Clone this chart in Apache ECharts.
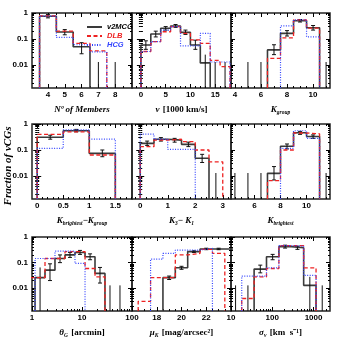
<!DOCTYPE html>
<html><head><meta charset="utf-8">
<script src="https://cdn.jsdelivr.net/npm/echarts@6/dist/echarts.min.js"></script>
<style>html,body{margin:0;padding:0;background:#fff}#c{width:343px;height:343px}</style>
</head><body><div id="c"></div>
<script>
// ---------- shared y range (fraction of groups, log) ----------
const Y_MIN = 0.0013, Y_MAX = 1;
const yTickLabels = [0.01, 0.1, 1];

// ---------- Panel 1: number of members ----------
const membersEdges = [3.5, 4.5, 5.5, 6.5, 7.5, 8.5];
const membersV2MCG = [0.75, 0.185, 0.05, 0, 0];
const membersDLB   = [0.78, 0.2, 0.068, 0.035, 0];
const membersHCG   = [0.76, 0.115, 0.06, 0.032, 0];
const membersErrX  = [4, 5, 6, 7, 8];
const membersErrLo = [0.65, 0.145, 0.027, 0, 0];
const membersErrHi = [0.88, 0.23, 0.072, 0.013, 0.013];
const membersTicks = [4, 5, 6, 7, 8];

// ---------- Panel 2: velocity [1000 km/s] ----------
const velEdges = [0, 2, 4, 6, 8, 10, 12, 14, 16, 18];
const velV2MCG = [0.059, 0.155, 0.26, 0.316, 0.18, 0.059, 0.012, 0, 0];
const velDLB   = [0.033, 0.079, 0.19, 0.3, 0.165, 0.092, 0.068, 0.015, 0.0087];
const velHCG   = [0.033, 0.079, 0.22, 0.3, 0.054, 0.054, 0.165, 0.013, 0.013];
const velErrX  = [1, 3, 5, 7, 9, 11, 13, 15, 17];
const velErrLo = [0.04, 0.12, 0.22, 0.28, 0.15, 0.04, 0, 0, 0];
const velErrHi = [0.085, 0.2, 0.3, 0.36, 0.22, 0.09, 0.025, 0.013, 0.013];
const velTicks = [0, 5, 10, 15];

// ---------- Panel 3: K_group ----------
const kgEdges = [6.5, 7.5, 8.5, 9.5, 10.5];
const kgV2MCG = [0.038, 0.165, 0.5, 0.27];
const kgDLB   = [0.018, 0.11, 0.54, 0.26];
const kgHCG   = [0, 0.32, 0.54, 0.12];
const kgErrX  = [5, 6, 7, 8, 9, 10, 11];
const kgErrLo = [0, 0, 0.025, 0.13, 0.45, 0.22, 0];
const kgErrHi = [0.013, 0.013, 0.06, 0.21, 0.56, 0.33, 0.013];
const kgTicks = [4, 6, 8, 10];

// ---------- Panel 4: K_brightest - K_group ----------
const dkEdges = [0, 0.5, 1, 1.5];
const dkV2MCG = [0.31, 0.55, 0.074];
const dkDLB   = [0.4, 0.5, 0.064];
const dkHCG   = [0.115, 0.59, 0.26];
const dkErrX  = [0.25, 0.75, 1.25];
const dkErrLo = [0.26, 0.5, 0.055];
const dkErrHi = [0.37, 0.62, 0.1];
const dkTicks = [0, 0.5, 1, 1.5];

// ---------- Panel 5: K_3 - K_1 ----------
const gapEdges = [0, 0.5, 1, 1.5, 2, 2.5, 3];
const gapV2MCG = [0.18, 0.26, 0.24, 0.165, 0.048, 0];
const gapDLB   = [0.134, 0.24, 0.26, 0.21, 0.1, 0.035];
const gapHCG   = [0.41, 0.26, 0.106, 0.106, 0, 0];
const gapErrX  = [0.25, 0.75, 1.25, 1.75, 2.25, 2.75];
const gapErrLo = [0.15, 0.22, 0.2, 0.135, 0.033, 0];
const gapErrHi = [0.22, 0.3, 0.28, 0.2, 0.068, 0.013];
const gapTicks = [0, 1, 2, 3];

// ---------- Panel 6: K_brightest ----------
const kbEdges = [7, 8, 9, 10, 11];
const kbV2MCG = [0.0126, 0.14, 0.46, 0.33];
const kbDLB   = [0.0066, 0.1, 0.45, 0.42];
const kbHCG   = [0, 0.115, 0.55, 0.28];
const kbErrX  = [4.5, 5.5, 6.5, 7.5, 8.5, 9.5, 10.5, 11.5];
const kbErrLo = [0, 0, 0, 0.007, 0.11, 0.4, 0.28, 0];
const kbErrHi = [0.013, 0.013, 0.013, 0.023, 0.17, 0.52, 0.38, 0.013];
const kbTicks = [6, 8, 10];

// ---------- Panel 7: theta_G [arcmin] ----------
const thEdges = [0.724, 1.15, 1.82, 2.88, 4.57, 7.24, 11.5, 18.2, 28.8, 45.7];
const thV2MCG = [0, 0.026, 0.051, 0.145, 0.2, 0.25, 0.17, 0.038, 0];
const thDLB   = [0.026, 0.026, 0.145, 0.145, 0.27, 0.27, 0.059, 0.028, 0];
const thHCG   = [0, 0.145, 0.145, 0.28, 0.28, 0.093, 0, 0, 0];
const thErrX  = [1.45, 2.29, 3.63, 5.75, 9.12, 14.5, 22.9, 36.3, 57.5];
const thErrLo = [0, 0.02, 0.1, 0.16, 0.21, 0.13, 0.016, 0, 0];
const thErrHi = [0.065, 0.09, 0.2, 0.25, 0.3, 0.22, 0.065, 0.013, 0.013];
const thTicks = [1, 10, 100];

// ---------- Panel 8: mu_K [mag/arcsec^2] ----------
const muEdges = [16.5, 17.5, 18.5, 19.5, 20.5, 21.5, 22.5, 23.5, 24.5];
const muV2MCG = [0, 0, 0.026, 0.063, 0.27, 0.34, 0.34, 0.34];
const muDLB   = [0.0031, 0.026, 0.026, 0.2, 0.23, 0.33, 0.23, 0];
const muHCG   = [0, 0.137, 0.23, 0.31, 0.31, 0.36, 0, 0];
const muErrX  = [19, 20, 21, 22, 23];
const muErrLo = [0.022, 0.055, 0.25, 0.32, 0.32];
const muErrHi = [0.03, 0.072, 0.29, 0.365, 0.365];
const muTicks = [18, 20, 22];

// ---------- Panel 9: sigma_v [km/s] ----------
const sgEdges = [9.1, 18.2, 36.3, 72.4, 144.5, 288, 575, 1148, 2290];
const sgV2MCG = [0, 0, 0.056, 0.17, 0.42, 0.38, 0.013, 0];
const sgDLB   = [0, 0.004, 0.028, 0.059, 0.46, 0.46, 0.063, 0];
const sgHCG   = [0, 0.03, 0.03, 0.063, 0.46, 0.44, 0.032, 0];
const sgErrX  = [12.9, 25.7, 51.2, 102, 204, 407, 812, 1620];
const sgErrLo = [0, 0, 0.04, 0.13, 0.37, 0.33, 0, 0];
const sgErrHi = [0.013, 0.013, 0.08, 0.21, 0.48, 0.44, 0.028, 0.013];
const sgTicks = [10, 100, 1000];

// ---------- helpers ----------
function range(a, b, s) { const r = []; for (let v = a; v <= b + 1e-9; v += s) r.push(+v.toFixed(6)); return r; }
function logMinor(lo, hi) { const r = []; for (let e = lo; e < hi; e++) for (let m = 2; m <= 9; m++) r.push(+(m * Math.pow(10, e)).toPrecision(3)); return r; }
function logMajor(lo, hi) { const r = []; for (let e = lo; e <= hi; e++) r.push(+Math.pow(10, e).toPrecision(3)); return r; }
const fmtNum = v => String(+(+v).toPrecision(3));

const RICH = {
  i: { fontFamily: 'Liberation Serif', fontStyle: 'italic', fontWeight: 'bold', fontSize: 9, lineHeight: 13, color: '#000' },
  r: { fontFamily: 'Liberation Serif', fontWeight: 'bold', fontSize: 9, lineHeight: 13, color: '#000' },
  s: { fontFamily: 'Liberation Serif', fontStyle: 'italic', fontWeight: 'bold', fontSize: 5.5, lineHeight: 6, verticalAlign: 'bottom', color: '#000' }
};

const panels = [
  { type: 'value', min: 3.05, max: 9.0, labels: membersTicks, major: membersTicks, minor: range(3.5, 8.5, 0.5),
    name: '{i|Nº of Members}', edges: membersEdges, v2: membersV2MCG, dlb: membersDLB, hcg: membersHCG,
    ex: membersErrX, elo: membersErrLo, ehi: membersErrHi },
  { type: 'value', min: -1.8, max: 18.2, labels: velTicks, major: velTicks, minor: range(-1, 18, 1),
    name: '{i|v} {r|[1000 km/s]}', edges: velEdges, v2: velV2MCG, dlb: velDLB, hcg: velHCG,
    ex: velErrX, elo: velErrLo, ehi: velErrHi },
  { type: 'value', min: 3.7, max: 11.3, labels: kgTicks, major: kgTicks, minor: range(4, 11, 0.5),
    name: '{i|K}{s|group}', edges: kgEdges, v2: kgV2MCG, dlb: kgDLB, hcg: kgHCG,
    ex: kgErrX, elo: kgErrLo, ehi: kgErrHi },
  { type: 'value', min: -0.1, max: 1.82, labels: dkTicks, major: dkTicks, minor: range(0, 1.8, 0.1),
    name: '{i|K}{s|brightest}{r|−}{i|K}{s|group}', edges: dkEdges, v2: dkV2MCG, dlb: dkDLB, hcg: dkHCG,
    ex: dkErrX, elo: dkErrLo, ehi: dkErrHi },
  { type: 'value', min: -0.3, max: 3.3, labels: gapTicks, major: gapTicks, minor: range(-0.2, 3.2, 0.2),
    name: '{i|K}{s|3}{r|− }{i|K}{s|1}', edges: gapEdges, v2: gapV2MCG, dlb: gapDLB, hcg: gapHCG,
    ex: gapErrX, elo: gapErrLo, ehi: gapErrHi },
  { type: 'value', min: 4.2, max: 11.8, labels: kbTicks, major: kbTicks, minor: range(4.5, 11.5, 0.5),
    name: '{i|K}{s|brightest}', edges: kbEdges, v2: kbV2MCG, dlb: kbDLB, hcg: kbHCG,
    ex: kbErrX, elo: kbErrLo, ehi: kbErrHi },
  { type: 'log', min: 1, max: 100, labels: thTicks, major: logMajor(0, 2), minor: logMinor(0, 2),
    name: '{i|θ}{s|G} {r|[arcmin]}', edges: thEdges, v2: thV2MCG, dlb: thDLB, hcg: thHCG,
    ex: thErrX, elo: thErrLo, ehi: thErrHi },
  { type: 'value', min: 16, max: 24, labels: muTicks, major: [16, 18, 20, 22, 24], minor: range(16.5, 23.5, 0.5),
    name: '{i|μ}{s|K} {r|[mag/arcsec²]}', edges: muEdges, v2: muV2MCG, dlb: muDLB, hcg: muHCG,
    ex: muErrX, elo: muErrLo, ehi: muErrHi },
  { type: 'log', min: 10, max: 2500, labels: sgTicks, major: logMajor(1, 3), minor: logMinor(1, 4),
    name: '{i|σ}{s|v} {r|[km  s⁻¹]}', edges: sgEdges, v2: sgV2MCG, dlb: sgDLB, hcg: sgHCG,
    ex: sgErrX, elo: sgErrLo, ehi: sgErrHi }
];

const colLeft = [32, 132, 231], colW = [100, 99, 99];
const rowTop = [13, 124, 237], rowH = [75, 75, 74];

function stepPoints(edges, vals) {
  const pts = [];
  for (let i = 0; i < vals.length; i++) {
    const v = vals[i];
    if (!(v > 0)) continue;
    const prev = i > 0 ? vals[i - 1] : 0;
    const next = i < vals.length - 1 ? vals[i + 1] : 0;
    if (!(prev > 0)) { if (pts.length) pts.push(['-', '-']); pts.push([edges[i], Y_MIN]); }
    pts.push([edges[i], v]); pts.push([edges[i + 1], v]);
    if (!(next > 0)) pts.push([edges[i + 1], Y_MIN]);
  }
  return pts;
}

function renderErr(params, api) {
  const x = api.value(0), lo = api.value(1), hi = api.value(2);
  const lim = !(lo > 0);
  const pLo = api.coord([x, lim ? Y_MIN : lo]);
  const pHi = api.coord([x, hi]);
  const st = { stroke: '#111', lineWidth: 1 };
  const ch = [{ type: 'line', shape: { x1: pLo[0], y1: pLo[1], x2: pHi[0], y2: pHi[1] }, style: st }];
  if (!lim) {
    ch.push({ type: 'line', shape: { x1: pLo[0] - 2, y1: pLo[1], x2: pLo[0] + 2, y2: pLo[1] }, style: st });
    ch.push({ type: 'line', shape: { x1: pHi[0] - 2, y1: pHi[1], x2: pHi[0] + 2, y2: pHi[1] }, style: st });
  }
  return { type: 'group', children: ch };
}

const grids = [], xAxis = [], yAxis = [], series = [];
const yMinor = logMinor(-3, 0).filter(v => v >= Y_MIN);
const yMajor = logMajor(-2, 0);

panels.forEach((p, k) => {
  const r = Math.floor(k / 3), c = k % 3;
  grids.push({ left: colLeft[c], top: rowTop[r], width: colW[c], height: rowH[r], show: true,
    borderColor: '#222', borderWidth: 1.5, backgroundColor: 'transparent' });
  const xb = { gridIndex: k, type: p.type, min: p.min, max: p.max, splitLine: { show: false }, axisLine: { show: false } };
  if (p.type === 'log') xb.logBase = 10;
  const tk = (vals, len) => ({ inside: true, length: len, customValues: vals, lineStyle: { color: '#000', width: 1 } });
  xAxis.push(Object.assign({}, xb, { position: 'bottom', axisTick: tk(p.major, 4),
    axisLabel: { customValues: p.labels, margin: 3, fontSize: 8, fontWeight: 'bold', fontFamily: 'Liberation Sans', color: '#000', formatter: fmtNum, hideOverlap: false },
    name: p.name, nameLocation: 'middle', nameGap: 15, nameMoveOverlap: false, nameTextStyle: { rich: RICH } }));
  xAxis.push(Object.assign({}, xb, { position: 'bottom', axisTick: tk(p.minor, 2), axisLabel: { show: false } }));
  xAxis.push(Object.assign({}, xb, { position: 'top', axisTick: tk(p.major, 4), axisLabel: { show: false } }));
  xAxis.push(Object.assign({}, xb, { position: 'top', axisTick: tk(p.minor, 2), axisLabel: { show: false } }));
  const yb = { gridIndex: k, type: 'log', logBase: 10, min: Y_MIN, max: Y_MAX, splitLine: { show: false }, axisLine: { show: false } };
  yAxis.push(Object.assign({}, yb, { position: 'left', axisTick: tk(yMajor, 4),
    axisLabel: c === 0 ? { customValues: yTickLabels, margin: 4, fontSize: 8, fontWeight: 'bold', fontFamily: 'Liberation Sans', color: '#000', formatter: fmtNum, hideOverlap: false } : { show: false } }));
  yAxis.push(Object.assign({}, yb, { position: 'left', axisTick: tk(yMinor, 2), axisLabel: { show: false } }));
  yAxis.push(Object.assign({}, yb, { position: 'right', axisTick: tk(yMajor, 4), axisLabel: { show: false } }));
  yAxis.push(Object.assign({}, yb, { position: 'right', axisTick: tk(yMinor, 2), axisLabel: { show: false } }));

  const ai = 4 * k;
  series.push({ type: 'line', name: 'v2MCG', xAxisIndex: ai, yAxisIndex: ai, data: stepPoints(p.edges, p.v2),
    symbol: 'none', lineStyle: { color: '#3a3a3a', width: 1.6 }, itemStyle: { color: '#3a3a3a' }, z: 2, clip: true });
  series.push({ type: 'custom', name: 'err' + k, xAxisIndex: ai, yAxisIndex: ai, renderItem: renderErr, clip: true, z: 3,
    encode: { x: 0, y: [1, 2] },
    data: p.ex.map((x, i) => [x, p.elo[i], p.ehi[i]]) });
  series.push({ type: 'line', name: 'DLB', xAxisIndex: ai, yAxisIndex: ai, data: stepPoints(p.edges, p.dlb),
    symbol: 'none', lineStyle: { color: '#ee2222', width: 1.3, type: [4, 2.5] }, itemStyle: { color: '#ee2222' }, z: 4, clip: true });
  series.push({ type: 'line', name: 'HCG', xAxisIndex: ai, yAxisIndex: ai, data: stepPoints(p.edges, p.hcg),
    symbol: 'none', lineStyle: { color: '#3344ff', width: 1.2, type: [1, 1.5] }, itemStyle: { color: '#3344ff' }, z: 5, clip: true });
});

const chart = echarts.init(document.getElementById('c'), null, { renderer: 'canvas' });
chart.setOption({
  animation: false,
  backgroundColor: '#fff',
  grid: grids, xAxis: xAxis, yAxis: yAxis, series: series,
  legend: {
    left: 81, top: 18, orient: 'vertical', itemWidth: 15, itemHeight: 6, itemGap: 1,
    itemStyle: { opacity: 0, borderWidth: 0 },
    textStyle: { fontSize: 7.5, lineHeight: 7, fontStyle: 'italic', fontWeight: 'bold', fontFamily: 'Liberation Sans' },
    data: [
      { name: 'v2MCG', textStyle: { color: '#000' } },
      { name: 'DLB', textStyle: { color: '#ee2222' } },
      { name: 'HCG', textStyle: { color: '#3344ff' } }
    ]
  },
  graphic: [{ type: 'text', x: 8, y: 166, rotation: Math.PI / 2,
    style: { text: 'Fraction of vCGs', font: 'italic bold 11px "Liberation Serif"', align: 'center', verticalAlign: 'middle', fill: '#000' } }]
});
</script>
</body></html>
